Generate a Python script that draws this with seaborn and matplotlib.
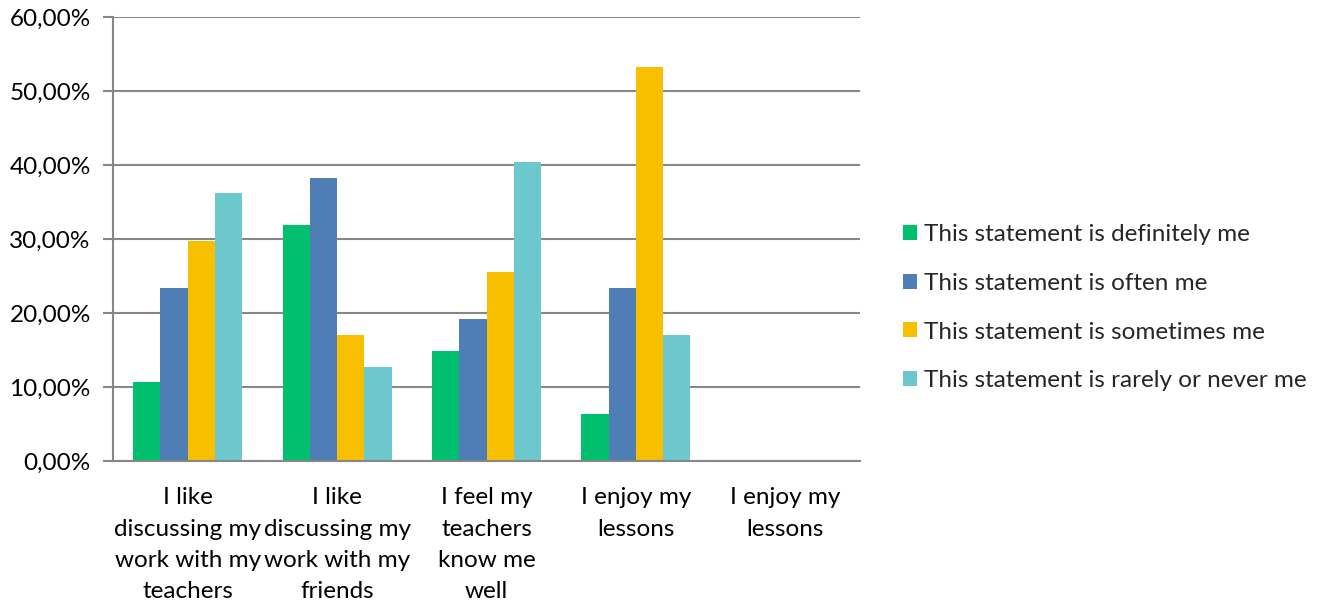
import matplotlib
matplotlib.use("Agg")
import matplotlib.pyplot as plt
import matplotlib.ticker as mticker
import seaborn as sns
import pandas as pd
import numpy as np

# ---- data ----
items = [
    "I like\ndiscussing my\nwork with my\nteachers",
    "I like\ndiscussing my\nwork with my\nfriends",
    "I feel my\nteachers\nknow me\nwell",
    "I enjoy my\nlessons",
    "I enjoy my\nlessons",
]
series = [
    "This statement is definitely me",
    "This statement is often me",
    "This statement is sometimes me",
    "This statement is rarely or never me",
]
definitely = [0.1064, 0.3191, 0.1489, 0.0638, np.nan]
often = [0.2340, 0.3830, 0.1915, 0.2340, np.nan]
sometimes = [0.2979, 0.1702, 0.2553, 0.5319, np.nan]
rarely = [0.3617, 0.1277, 0.4043, 0.1702, np.nan]
colors = ["#00BF6F", "#4F7DB5", "#F8BE00", "#6CC8CC"]

rows = []
for s, vals in zip(series, [definitely, often, sometimes, rarely]):
    for i, v in enumerate(vals):
        rows.append({"pos": i, "series": s, "value": v})
df = pd.DataFrame(rows)

sns.set_theme(style="white")
plt.rcParams["font.family"] = ["Lato", "DejaVu Sans"]

FS = 17.5

fig = plt.figure(figsize=(13.28, 6.08), dpi=100)
ax = fig.add_axes([113 / 1328, 1 - 461 / 608, (860 - 113) / 1328, (461 - 17) / 608])

sns.barplot(data=df, x="pos", y="value", hue="series", order=list(range(5)),
            hue_order=series, palette=colors, width=0.73, ax=ax,
            errorbar=None, linewidth=0, saturation=1, legend=True)

grid_c = "#878787"
ax.set_ylim(0, 0.6)
ax.set_xlim(-0.5, 4.5)
ax.yaxis.set_major_locator(mticker.MultipleLocator(0.1))
ax.yaxis.set_major_formatter(mticker.FuncFormatter(lambda v, p: f"{v*100:.2f}%".replace(".", ",")))
ax.grid(axis="y", color=grid_c, linewidth=1.5)
ax.set_axisbelow(True)
for side in ["top", "right"]:
    ax.spines[side].set_visible(False)
for side in ["left", "bottom"]:
    ax.spines[side].set_color(grid_c)
    ax.spines[side].set_linewidth(1.5)

ax.set_xticks(range(5))
ax.set_xticklabels(items, fontsize=FS, linespacing=1.6, color="black")
ax.set_xticks(np.arange(-0.5, 5.0, 1.0), minor=True)
ax.tick_params(axis="x", which="major", length=0, pad=19)
ax.tick_params(axis="x", which="minor", length=7, width=1.5, color=grid_c, direction="out")
ax.tick_params(axis="y", length=7, width=1.5, color=grid_c, direction="out", pad=9,
               labelsize=FS, labelcolor="black", left=True)
ax.set_xlabel("")
ax.set_ylabel("")

handles, labels = ax.get_legend_handles_labels()
ax.legend_.remove()
fig.legend(handles, labels, loc="center left", bbox_to_anchor=(0.6634, 0.494),
           frameon=False, fontsize=FS, handlelength=0.58, handleheight=0.58,
           handletextpad=0.3, labelspacing=1.14)

fig.savefig("out.png", dpi=100)
